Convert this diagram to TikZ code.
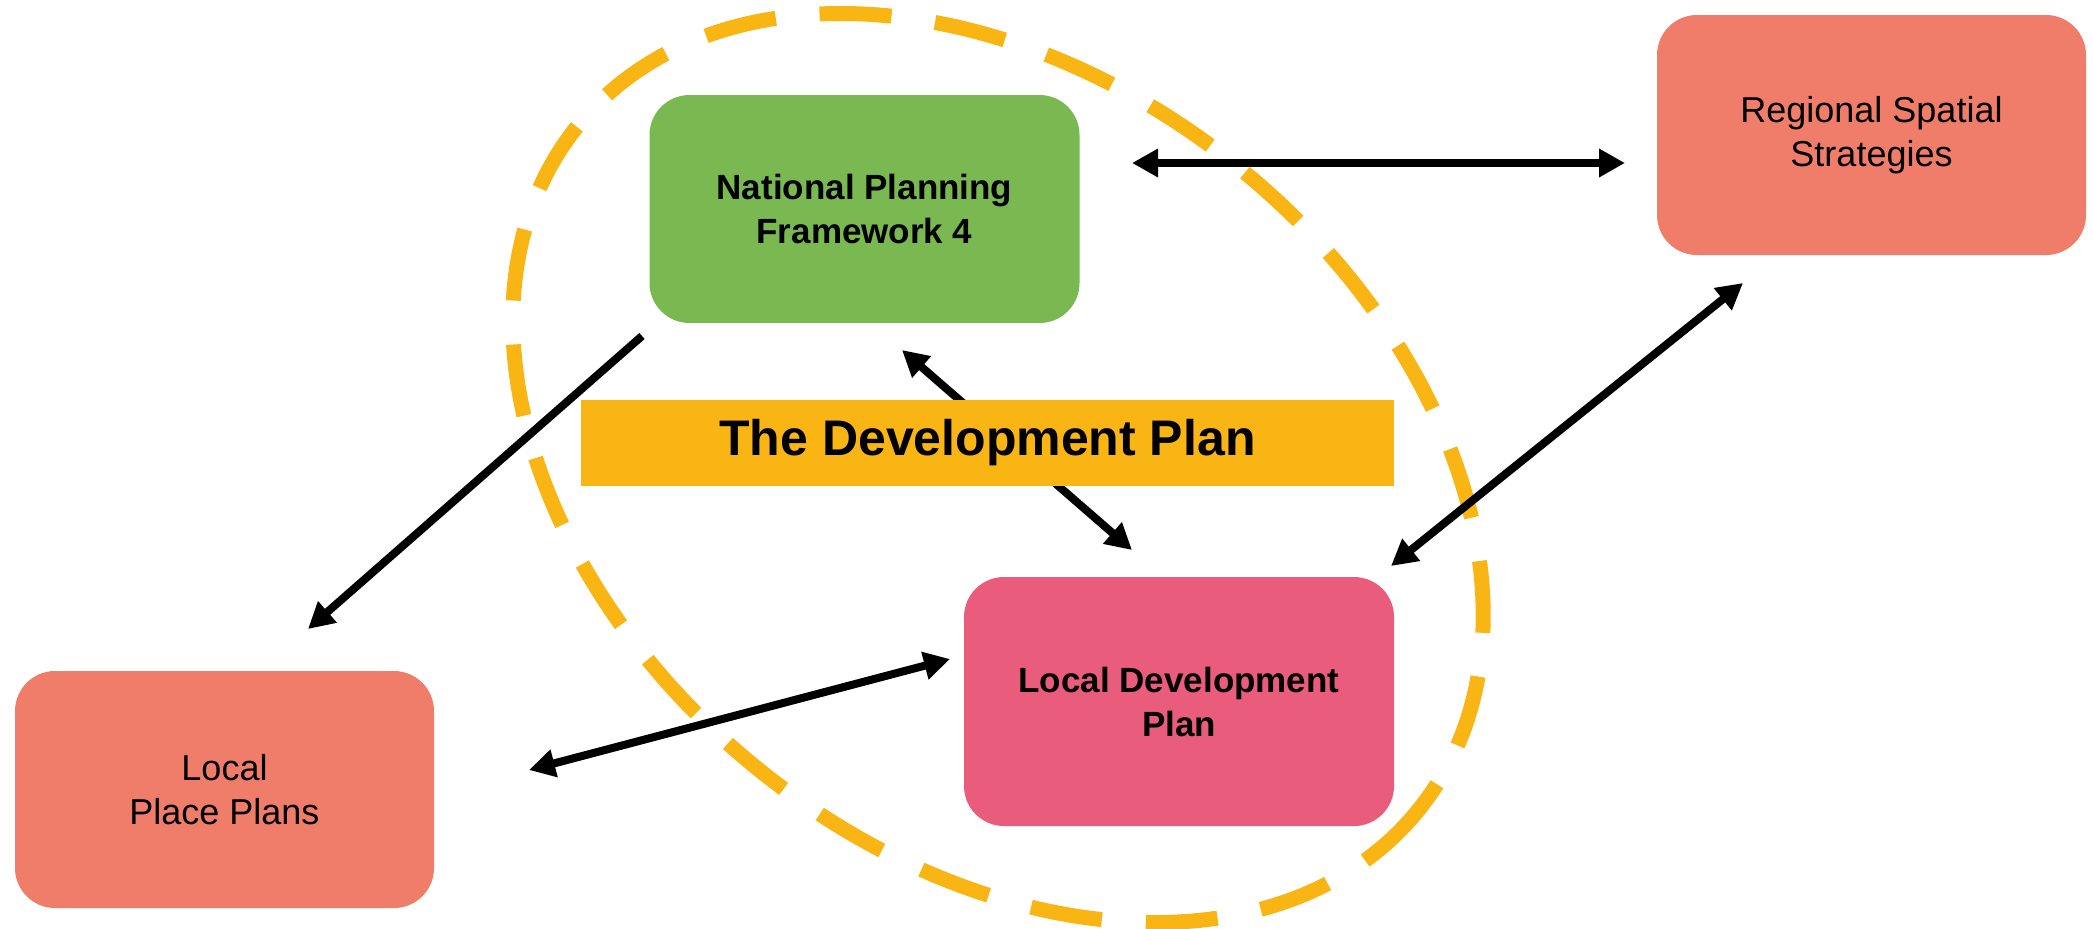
\documentclass[tikz,border=0pt]{standalone}
\usepackage{fontspec}
\setmainfont{Liberation Sans}
\usetikzlibrary{arrows.meta}

\definecolor{npfgreen}{RGB}{122,185,81}
\definecolor{rsssalmon}{RGB}{239,125,106}
\definecolor{ldppink}{RGB}{233,92,123}
\definecolor{planyellow}{RGB}{249,181,20}

\tikzset{
	box/.style={rounded corners=20pt, inner sep=0pt, align=center, font=\fontsize{18}{22}\selectfont},
	boldbox/.style={box, font=\fontsize{17.5}{22}\selectfont\bfseries},
	link/.style={line width=4pt, {Triangle[length=13pt,width=13.5pt]}-{Triangle[length=13pt,width=13.5pt]}},
	onelink/.style={line width=4pt, -{Triangle[length=13pt,width=13.5pt]}},
}

\begin{document}
\begin{tikzpicture}[x=0.5pt, y=-0.5pt]
	\useasboundingbox (0,0) rectangle (2093,928);
	% dashed ring round the development plan
	\draw[planyellow, line width=7.5pt, dash pattern=on 36pt off 22pt, rotate around={-39.3:(998,468)}] (998,468) ellipse [x radius=542, y radius=385];

	\node[boldbox, fill=npfgreen, minimum width=215pt, minimum height=114pt] (npf) at (864.5,209) {National Planning\\Framework 4};
	\node[box, fill=rsssalmon, minimum width=214.5pt, minimum height=120pt] (rss) at (1871.5,135) {Regional Spatial\\Strategies};
	\node[box, fill=rsssalmon, minimum width=209.5pt, minimum height=118.5pt] (lpp) at (224.5,789.5) {Local\\Place Plans};
	\node[boldbox, fill=ldppink, minimum width=215pt, minimum height=124.5pt] (ldp) at (1179,701.5) {Local Development\\Plan};

	\coordinate (npfR) at (1132,163);
	\coordinate (rssL) at (1625,163);
	\coordinate (npfBL) at (642,336);
	\coordinate (lppT) at (308,629);
	\coordinate (npfB) at (902,350);
	\coordinate (ldpT) at (1132,550);
	\coordinate (rssB) at (1743,283);
	\coordinate (ldpTR) at (1391,566);
	\coordinate (lppR) at (529,770);
	\coordinate (ldpL) at (950,659);

	\draw[link] (npfR) -- (rssL);
	\draw[onelink] (npfBL) -- (lppT);
	\draw[link] (npfB) -- (ldpT);
	\draw[link] (rssB) -- (ldpTR);
	\draw[link] (lppR) -- (ldpL);

	\node[fill=planyellow, minimum width=406.5pt, minimum height=43pt, inner sep=0pt, font=\fontsize{25}{30}\selectfont\bfseries] (devplan) at (987.5,443) {The Development Plan};
\end{tikzpicture}
\end{document}
